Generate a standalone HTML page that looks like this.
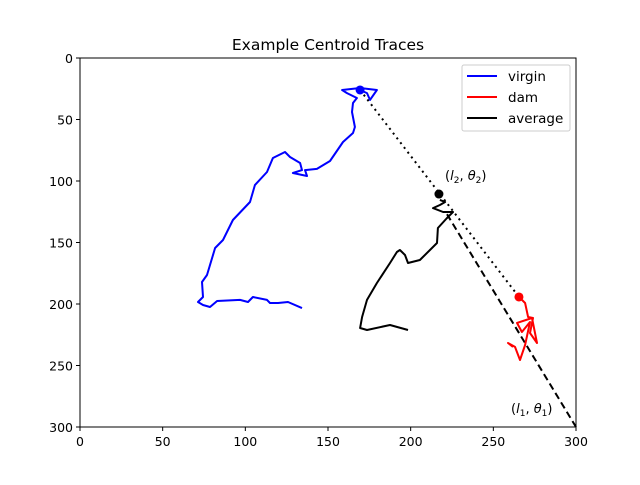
<!DOCTYPE html>
<html><head><meta charset="utf-8"><style>
body{margin:0;background:#fff}
svg text{font-family:"DejaVu Sans","Liberation Sans",sans-serif}
</style></head><body>
<svg id="chart" width="640" height="480" xmlns="http://www.w3.org/2000/svg">
<rect width="640" height="480" fill="#fff"/>
<text x="328" y="50" font-size="15.5" text-anchor="middle">Example Centroid Traces</text>
<g id="plot"></g>
<g id="axes"></g>
<g>
<rect x="462" y="65" width="108" height="66" fill="#fff" stroke="#ccc" rx="2"/>
<line x1="467" y1="76" x2="497" y2="76" stroke="#0000ff" stroke-width="2"/>
<text x="508" y="81" font-size="13.5">virgin</text>
<line x1="467" y1="97" x2="497" y2="97" stroke="#ff0000" stroke-width="2"/>
<text x="508" y="102" font-size="13.5">dam</text>
<line x1="467" y1="118" x2="497" y2="118" stroke="#000" stroke-width="2"/>
<text x="508" y="123" font-size="13.5">average</text>
</g>
<text x="445" y="180" font-size="13">(<tspan font-style="italic">l</tspan><tspan font-size="9" dy="3">2</tspan><tspan dy="-3">, </tspan><tspan font-style="italic">θ</tspan><tspan font-size="9" dy="3">2</tspan><tspan dy="-3">)</tspan></text>
<text x="511" y="413" font-size="13">(<tspan font-style="italic">l</tspan><tspan font-size="9" dy="3">1</tspan><tspan dy="-3">, </tspan><tspan font-style="italic">θ</tspan><tspan font-size="9" dy="3">1</tspan><tspan dy="-3">)</tspan></text>
</svg>
<script>
const xTicks=[0,50,100,150,200,250,300];
const yTicks=[0,50,100,150,200,250,300];
const virginX=[134.3,125.8,119.8,114.9,113.1,104.6,101.6,96.8,82.9,78.6,74.4,71.4,74.4,73.8,76.8,81.7,86.5,92.5,102.8,105.8,113.1,116.7,124,127,133.1,134.3,128.8,137.3,136.1,143.3,151.2,159.1,165.1,166.3,164.5,165.1,167.5,161.5,158.5,169.4,179.6,175.4,173.6,169.4];
const virginY=[203.3,198.4,199.2,199.2,196.7,194.3,198.4,196.7,197.6,202.4,200.8,198.4,194.3,182.1,176.4,154.5,148,131.7,117.1,103.3,92.7,81.3,76.4,80.5,85.4,91.1,93.5,95.9,91.1,90.2,83.7,68.3,61,56.1,43.9,36.6,32.5,28.5,26,24.4,26,34.1,28.5,26];
const avgX=[198.4,187.5,173.6,169.4,170.6,173.6,179.6,187.5,191.7,193.5,196.6,198.4,205.6,215.9,216.5,222,225.6,219.6,213.5,217.7,220.8,217.7];
const avgY=[221.1,217.1,221.1,219.5,210.6,196.7,182.9,166.7,157.7,156.1,160.2,166.7,164.2,150.4,138.2,130.1,125.2,125.2,122,119.5,117.1,115.4];
const damX=[265.5,269.2,271,274,272.2,276.4,273.4,264.3,267.3,272.2,269.2,266.1,263.1,258.9,261.9];
const damY=[194.3,199.2,210.6,211.4,223.6,231.7,211.4,215.4,222.8,214.6,233.3,245.5,234.9,231.7,234.9];
const markersX=[169.4,217.1,265.5];
const markersY=[26,110.6,194.3];
const dottedX=[169.4,265.5], dottedY=[26,194.3];
const dashedX=[222,300], dashedY=[127,300];

const L=80,R=576,T=58,B=427;
const sx=v=>L+(v-0)/300*(R-L);
const sy=v=>T+(v-0)/300*(B-T);
const NS='http://www.w3.org/2000/svg';
const plot=document.getElementById('plot'),axes=document.getElementById('axes');
function mk(tag,attrs,parent){const e=document.createElementNS(NS,tag);for(const k in attrs)e.setAttribute(k,attrs[k]);parent.appendChild(e);return e;}
function pts(xs,ys){return xs.map((x,i)=>sx(x).toFixed(1)+','+sy(ys[i]).toFixed(1)).join(' ');}

let e;
e=mk('polyline',{points:pts(dottedX,dottedY),fill:'none',stroke:'#000','stroke-width':2,'stroke-dasharray':'2 4'},plot);


e=mk('polyline',{points:pts(dashedX,dashedY),fill:'none',stroke:'#000','stroke-width':2,'stroke-dasharray':'7 4'},plot);


e=mk('polyline',{points:pts(virginX,virginY),fill:'none',stroke:'#0000ff','stroke-width':2,'stroke-linejoin':'round'},plot);


e=mk('polyline',{points:pts(avgX,avgY),fill:'none',stroke:'#000','stroke-width':2,'stroke-linejoin':'round'},plot);


e=mk('polyline',{points:pts(damX,damY),fill:'none',stroke:'#ff0000','stroke-width':2,'stroke-linejoin':'round'},plot);


const mcol=['#0000ff','#000','#ff0000'];
markersX.forEach((x,i)=>{
  const c=mk('circle',{cx:sx(x),cy:sy(markersY[i]),r:4.5,fill:mcol[i]},plot);
  
  
});

e=mk('rect',{x:L,y:T,width:R-L,height:B-T,fill:'none',stroke:'#000','stroke-width':1},axes);


xTicks.forEach(v=>{
  const x=sx(v);
  const t=mk('line',{x1:x,y1:B,x2:x,y2:B+4,stroke:'#000'},axes);
  
  
  const l=mk('text',{x:x,y:B+19,'font-size':12.5,'text-anchor':'middle'},axes);
  l.textContent=v;
  
  
});
yTicks.forEach(v=>{
  const y=sy(v);
  const t=mk('line',{x1:L-4,y1:y,x2:L,y2:y,stroke:'#000'},axes);
  
  
  const l=mk('text',{x:L-7,y:y+5,'font-size':12.5,'text-anchor':'end'},axes);
  l.textContent=v;
  
  
});
</script>
</body></html>
